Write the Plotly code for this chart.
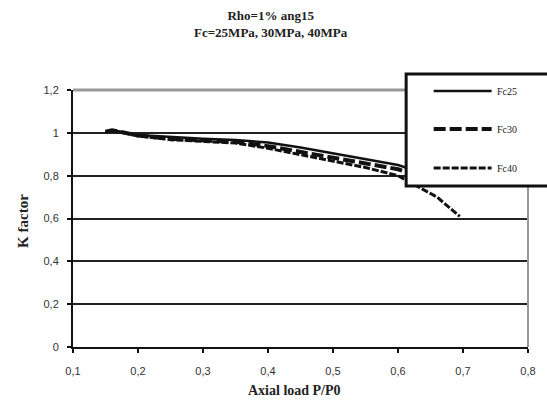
import plotly.graph_objects as go

# ---- data ----
x25 = [0.15, 0.16, 0.2, 0.25, 0.3, 0.35, 0.4, 0.45, 0.5, 0.55, 0.6, 0.65]
fc25 = [1.005, 1.012, 0.99, 0.98, 0.972, 0.966, 0.955, 0.932, 0.905, 0.88, 0.85, 0.80]
x30 = [0.15, 0.16, 0.2, 0.25, 0.3, 0.35, 0.4, 0.45, 0.5, 0.55, 0.6, 0.65]
fc30 = [1.005, 1.012, 0.988, 0.972, 0.965, 0.958, 0.938, 0.912, 0.885, 0.86, 0.83, 0.78]
x40 = [0.15, 0.16, 0.2, 0.25, 0.3, 0.35, 0.4, 0.45, 0.5, 0.55, 0.6, 0.63, 0.66, 0.695]
fc40 = [1.005, 1.012, 0.985, 0.968, 0.96, 0.952, 0.928, 0.898, 0.868, 0.838, 0.80, 0.75, 0.70, 0.61]
names = ["Fc25", "Fc30", "Fc40"]
xticks = [0.1, 0.2, 0.3, 0.4, 0.5, 0.6, 0.7, 0.8]
xticklabels = ["0,1", "0,2", "0,3", "0,4", "0,5", "0,6", "0,7", "0,8"]
yticks = [0, 0.2, 0.4, 0.6, 0.8, 1.0, 1.2]
yticklabels = ["0", "0,2", "0,4", "0,6", "0,8", "1", "1,2"]

styles = [
    dict(color="#111", width=2.5, dash="solid"),
    dict(color="#111", width=4, dash="12px,4px"),
    dict(color="#111", width=3, dash="7px,2px"),
]

fig = go.Figure()
for xs, ys, nm, st in zip([x25, x30, x40], [fc25, fc30, fc40], names, styles):
    fig.add_trace(go.Scatter(x=xs, y=ys, mode="lines", name=nm, line=st,
                             showlegend=False))

W, H = 547, 400
L, R, T, B = 73, 11, 90, 53
pw, ph = W - L - R, H - T - B

def px(xp):
    return (xp - L) / pw

def py(yp):
    return (H - B - yp) / ph

shapes = []
# gray top border and right border
shapes.append(dict(type="line", xref="paper", yref="paper", x0=0, x1=1, y0=1, y1=1,
                   line=dict(color="#999", width=3), layer="above"))
shapes.append(dict(type="line", xref="paper", yref="paper", x0=1, x1=1, y0=0, y1=1,
                   line=dict(color="#999", width=2), layer="above"))
# manual legend box
shapes.append(dict(type="rect", xref="paper", yref="paper",
                   x0=px(412), x1=px(560), y0=py(186), y1=py(74),
                   line=dict(color="#111", width=3), fillcolor="white", layer="above"))
annotations = []
rows = [91, 129, 168]
for nm, st, yr in zip(names, styles, rows):
    shapes.append(dict(type="line", xref="paper", yref="paper",
                       x0=px(440), x1=px(499), y0=py(yr), y1=py(yr),
                       line=st, layer="above"))
    annotations.append(dict(x=px(502), y=py(yr), xref="paper", yref="paper",
                            text=nm, showarrow=False, xanchor="left", yanchor="middle",
                            font=dict(family="Liberation Serif", size=10, color="#222")))

annotations.append(dict(x=px(274), y=py(24), xref="paper", yref="paper",
                        text="<b>Rho=1% ang15<br>Fc=25MPa, 30MPa, 40MPa</b>",
                        showarrow=False, xanchor="center", yanchor="middle",
                        font=dict(family="Liberation Serif", size=13, color="#222")))
annotations.append(dict(x=px(22), y=py(221), xref="paper", yref="paper",
                        text="<b>K factor</b>", textangle=-90,
                        showarrow=False, xanchor="center", yanchor="middle",
                        font=dict(family="Liberation Serif", size=15, color="#222")))
annotations.append(dict(x=px(298), y=py(400), xref="paper", yref="paper",
                        text="<b>Axial load P/P0</b>",
                        showarrow=False, xanchor="center", yanchor="bottom",
                        font=dict(family="Liberation Serif", size=14, color="#222")))

fig.update_layout(
    width=W, height=H,
    margin=dict(l=L, r=R, t=T, b=B, pad=0),
    paper_bgcolor="white", plot_bgcolor="white",
    shapes=shapes, annotations=annotations,
    showlegend=False,
    xaxis=dict(range=[0.1, 0.8], tickvals=xticks, ticktext=xticklabels,
               showgrid=False, zeroline=False, showline=True, linecolor="#111",
               linewidth=2, ticks="outside", ticklen=4, tickwidth=2, tickcolor="#111",
               tickfont=dict(family="Liberation Sans", size=11, color="#333"),
               ticklabelstandoff=9),
    yaxis=dict(range=[0, 1.2], tickvals=yticks, ticktext=yticklabels,
               showgrid=True, gridcolor="#222", gridwidth=2, zeroline=False,
               showline=True, linecolor="#111", linewidth=2,
               ticks="outside", ticklen=4, tickwidth=2, tickcolor="#111",
               tickfont=dict(family="Liberation Sans", size=11, color="#333"),
               ticklabelstandoff=6),
)

fig.write_html("out.html")
